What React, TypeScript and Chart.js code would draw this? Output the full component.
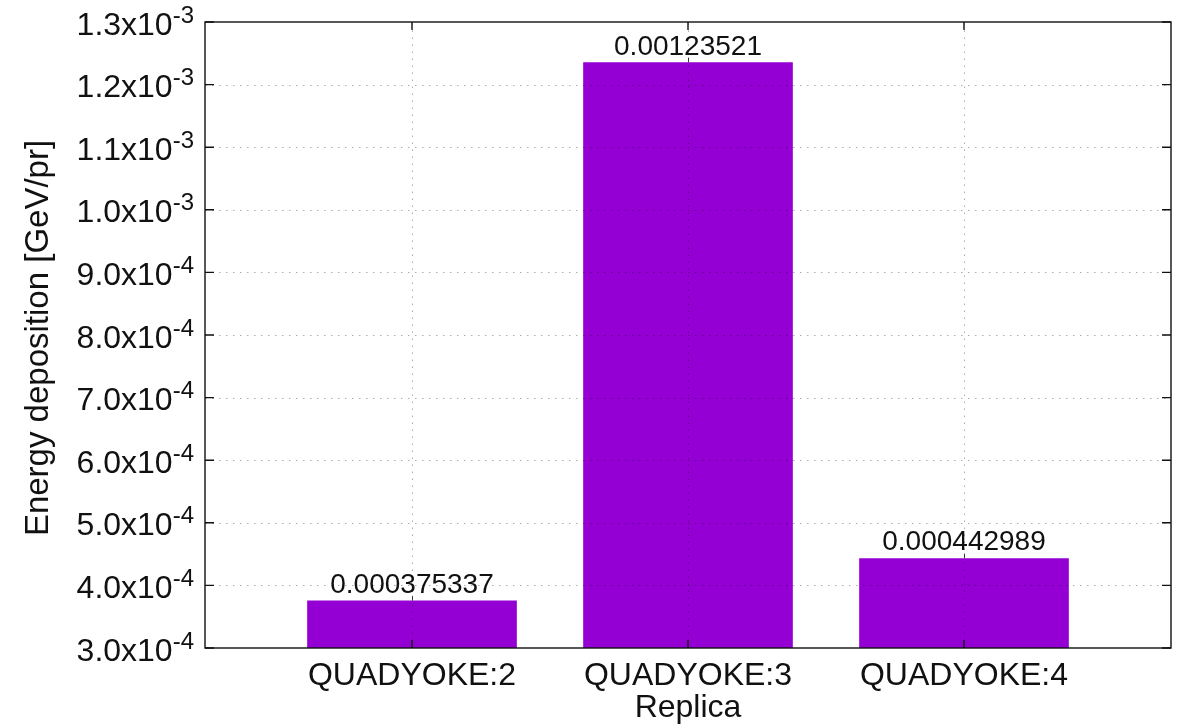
import React, { useEffect, useRef } from "react";
import { Chart, registerables } from "chart.js";

Chart.register(...registerables);

const categories = ["QUADYOKE:2", "QUADYOKE:3", "QUADYOKE:4"];
const values = [0.000375337, 0.00123521, 0.000442989];
const valueLabels = ["0.000375337", "0.00123521", "0.000442989"];
const yTickValues = [3e-4, 4e-4, 5e-4, 6e-4, 7e-4, 8e-4, 9e-4, 1.0e-3, 1.1e-3, 1.2e-3, 1.3e-3];
const yTickMantissas = ["3.0", "4.0", "5.0", "6.0", "7.0", "8.0", "9.0", "1.0", "1.1", "1.2", "1.3"];
const yTickExponents = ["-4", "-4", "-4", "-4", "-4", "-4", "-4", "-3", "-3", "-3", "-3"];
const xTitle = "Replica";
const yTitle = "Energy deposition [GeV/pr]";

const FONT = "'Liberation Sans', Arial, Helvetica, sans-serif";
const TEXT = "#111";

const drawPlugin = {
  id: "gnuplotLook",
  afterDatasetsDraw(chart: any) {
    const ctx = chart.ctx as CanvasRenderingContext2D;
    const area = chart.chartArea;
    const xs = chart.scales.x;
    const ys = chart.scales.y;
    ctx.save();

    // value labels
    ctx.fillStyle = TEXT;
    ctx.font = `28px ${FONT}`;
    ctx.textAlign = "center";
    ctx.textBaseline = "alphabetic";
    values.forEach((v, i) => {
      ctx.fillText(valueLabels[i], xs.getPixelForValue(i), ys.getPixelForValue(v) - 8);
    });

    // small stubs above bar tops
    ctx.strokeStyle = "#444";
    ctx.lineWidth = 1;
    ctx.setLineDash([]);
    values.forEach((v, i) => {
      const x = Math.round(xs.getPixelForValue(i)) + 0.5;
      const y = ys.getPixelForValue(v);
      ctx.beginPath();
      ctx.moveTo(x, y);
      ctx.lineTo(x, y - 5);
      ctx.stroke();
    });

    // grid (drawn in front)
    ctx.strokeStyle = "rgba(0,0,0,0.32)";
    ctx.lineWidth = 1;
    ctx.setLineDash([1.5, 5.5]);
    yTickValues.forEach((t, i) => {
      if (i === 0 || i === yTickValues.length - 1) return;
      const y = Math.round(ys.getPixelForValue(t)) + 0.5;
      ctx.beginPath();
      ctx.moveTo(area.left, y);
      ctx.lineTo(area.right, y);
      ctx.stroke();
    });
    categories.forEach((_, i) => {
      const x = Math.round(xs.getPixelForValue(i)) + 0.5;
      ctx.beginPath();
      ctx.moveTo(x, area.bottom);
      ctx.lineTo(x, area.top);
      ctx.stroke();
    });
    ctx.setLineDash([]);

    // border
    ctx.strokeStyle = "#111";
    ctx.lineWidth = 1.4;
    ctx.strokeRect(area.left, area.top, area.right - area.left, area.bottom - area.top);

    // ticks
    ctx.lineWidth = 1.4;
    yTickValues.forEach((t) => {
      const y = ys.getPixelForValue(t);
      ctx.beginPath();
      ctx.moveTo(area.left, y);
      ctx.lineTo(area.left + 9, y);
      ctx.moveTo(area.right, y);
      ctx.lineTo(area.right - 9, y);
      ctx.stroke();
    });
    categories.forEach((_, i) => {
      const x = xs.getPixelForValue(i);
      ctx.beginPath();
      ctx.moveTo(x, area.bottom);
      ctx.lineTo(x, area.bottom - 8);
      ctx.moveTo(x, area.top);
      ctx.lineTo(x, area.top + 8);
      ctx.stroke();
    });

    // y tick labels with superscript exponent
    ctx.fillStyle = TEXT;
    ctx.textBaseline = "alphabetic";
    const rightEdge = area.left - 11;
    yTickValues.forEach((t, i) => {
      const y = ys.getPixelForValue(t);
      const base = y + 12.5;
      ctx.font = `24px ${FONT}`;
      ctx.textAlign = "right";
      const supW = ctx.measureText(yTickExponents[i]).width;
      ctx.fillText(yTickExponents[i], rightEdge, base - 12);
      ctx.font = `32px ${FONT}`;
      ctx.fillText(yTickMantissas[i] + "x10", rightEdge - supW, base);
    });

    // category labels
    ctx.font = `32px ${FONT}`;
    ctx.textAlign = "center";
    categories.forEach((c, i) => {
      ctx.fillText(c, xs.getPixelForValue(i), area.bottom + 37);
    });

    // x title
    ctx.fillText(xTitle, (area.left + area.right) / 2, area.bottom + 69);

    // y title
    ctx.save();
    ctx.translate(48, (area.top + area.bottom) / 2 + 3);
    ctx.rotate(-Math.PI / 2);
    ctx.font = `33px ${FONT}`;
    ctx.textAlign = "center";
    ctx.fillText(yTitle, 0, 0);
    ctx.restore();

    ctx.restore();
  },
};

export default function App() {
  const ref = useRef<HTMLCanvasElement | null>(null);

  useEffect(() => {
    document.body.style.margin = "0";
    const canvas = ref.current;
    if (!canvas) return;
    const chart = new Chart(canvas, {
      type: "bar",
      data: {
        datasets: [
          {
            data: values.map((v, i) => ({ x: i, y: v })),
            backgroundColor: "#9400D3",
            borderWidth: 0,
            barThickness: 209,
            base: yTickValues[0],
          } as any,
        ],
      },
      options: {
        responsive: false,
        animation: false,
        devicePixelRatio: 1,
        layout: { padding: { left: 205, top: 22, right: 7, bottom: 79 } },
        plugins: {
          legend: { display: false },
          tooltip: { enabled: false },
        },
        scales: {
          x: { type: "linear", min: -0.75, max: 2.75, offset: false, display: false },
          y: { type: "linear", min: yTickValues[0], max: yTickValues[yTickValues.length - 1], display: false },
        },
      },
      plugins: [drawPlugin],
    });
    return () => chart.destroy();
  }, []);

  return (
    <div style={{ width: 1178, height: 727, background: "#fff" }}>
      <canvas ref={ref} width={1178} height={727} style={{ display: "block" }} />
    </div>
  );
}
